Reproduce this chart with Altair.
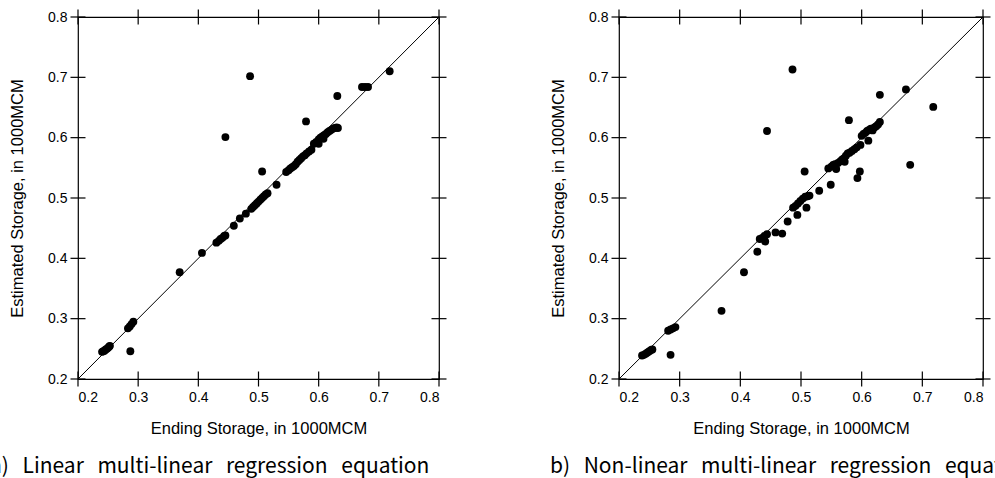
import altair as alt
import pandas as pd

tick_values = [0.2, 0.3, 0.4, 0.5, 0.6, 0.7, 0.8]
diag_values = [0.2, 0.8]

lin_obs = [0.486, 0.445, 0.718, 0.672, 0.677, 0.682, 0.631, 0.579, 0.506, 0.530, 0.369, 0.406, 0.287,
           0.283, 0.286, 0.289, 0.292,
           0.240, 0.242, 0.244, 0.246, 0.248, 0.250, 0.252, 0.253,
           0.430, 0.434, 0.437, 0.440, 0.443, 0.445,
           0.459, 0.469, 0.479,
           0.488, 0.491, 0.494, 0.497, 0.500, 0.503, 0.506, 0.509, 0.512, 0.515,
           0.546, 0.550, 0.553, 0.556, 0.559, 0.562, 0.565, 0.568, 0.571, 0.574,
           0.577, 0.580, 0.584, 0.588, 0.592, 0.596, 0.600, 0.603, 0.606, 0.609,
           0.612, 0.615, 0.618, 0.621, 0.624, 0.627, 0.630, 0.632, 0.608, 0.600]
lin_est = [0.702, 0.601, 0.710, 0.684, 0.684, 0.684, 0.669, 0.627, 0.544, 0.522, 0.377, 0.409, 0.246,
           0.284, 0.287, 0.291, 0.295,
           0.245, 0.246, 0.247, 0.249, 0.250, 0.252, 0.254, 0.255,
           0.426, 0.429, 0.432, 0.434, 0.437, 0.438,
           0.454, 0.466, 0.474,
           0.482, 0.485, 0.488, 0.491, 0.494, 0.497, 0.500, 0.503, 0.506, 0.508,
           0.543, 0.546, 0.549, 0.551, 0.553, 0.556, 0.560, 0.563, 0.566, 0.569,
           0.571, 0.574, 0.577, 0.580, 0.590, 0.593, 0.597, 0.600, 0.602, 0.604,
           0.606, 0.609, 0.611, 0.613, 0.615, 0.616, 0.617, 0.616, 0.598, 0.590]

non_obs = [0.486, 0.444, 0.630, 0.673, 0.718, 0.680, 0.579, 0.506, 0.597, 0.593,
           0.549, 0.530, 0.514, 0.509, 0.494, 0.478, 0.458, 0.469, 0.428, 0.406,
           0.369, 0.285,
           0.281, 0.285, 0.289, 0.293,
           0.238, 0.241, 0.244, 0.247, 0.250, 0.253, 0.255,
           0.432, 0.436, 0.440, 0.444, 0.441,
           0.487, 0.491, 0.495, 0.499, 0.503, 0.507, 0.511,
           0.545, 0.550, 0.553, 0.556, 0.558, 0.561, 0.565, 0.568, 0.571, 0.574,
           0.577, 0.572, 0.580, 0.584, 0.588, 0.592, 0.598, 0.600, 0.603, 0.606,
           0.609, 0.612, 0.615, 0.618, 0.611, 0.621, 0.624, 0.627, 0.630]
non_est = [0.713, 0.611, 0.671, 0.680, 0.651, 0.555, 0.629, 0.544, 0.544, 0.533,
           0.522, 0.512, 0.504, 0.484, 0.472, 0.461, 0.443, 0.441, 0.411, 0.377,
           0.313, 0.240,
           0.280, 0.282, 0.284, 0.286,
           0.239, 0.240, 0.242, 0.244, 0.246, 0.248, 0.249,
           0.432, 0.434, 0.437, 0.440, 0.428,
           0.484, 0.487, 0.491, 0.495, 0.499, 0.502, 0.503,
           0.549, 0.552, 0.555, 0.556, 0.548, 0.558, 0.561, 0.564, 0.566, 0.570,
           0.574, 0.560, 0.575, 0.578, 0.581, 0.584, 0.588, 0.603, 0.606, 0.608,
           0.611, 0.613, 0.615, 0.612, 0.595, 0.617, 0.619, 0.622, 0.626]

x_title = "Ending Storage, in 1000MCM"
y_title = "Estimated Storage, in 1000MCM"
SP = "\u00a0\u2009\u00a0"
cap_a = SP.join(["a)", "Linear", "multi-linear", "regression", "equation"])
cap_b = SP.join(["b)", "Non-linear", "multi-linear", "regression", "equation"])


def sc():
    return alt.Scale(domain=[0.2, 0.8], nice=False, zero=False)


def ax_x():
    return alt.Axis(values=tick_values, format=".1f", title=x_title,
                    ticks=False, tickSize=0, domain=False, grid=False,
                    labelPadding=11, titlePadding=16)


def ax_y():
    return alt.Axis(values=tick_values, format=".1f", title=y_title,
                    ticks=False, tickSize=0, domain=False, grid=False,
                    labelPadding=11, titlePadding=22)


def panel(obs, est, width, caption, dx):
    df = pd.DataFrame({"obs": obs, "est": est})
    tdf = pd.DataFrame({"t": tick_values})
    ddf = pd.DataFrame({"d": diag_values})

    pts = alt.Chart(df).mark_circle(size=62, color="black", opacity=1).encode(
        x=alt.X("obs:Q", scale=sc(), axis=ax_x()),
        y=alt.Y("est:Q", scale=sc(), axis=ax_y()),
    )
    diag = alt.Chart(ddf).mark_line(color="black", strokeWidth=1).encode(
        x=alt.X("d:Q", scale=sc(), axis=ax_x()),
        y=alt.Y("d:Q", scale=sc(), axis=ax_y()),
    )
    tk = dict(color="black", size=15, thickness=1.2, opacity=1)
    bottom = alt.Chart(tdf).mark_tick(orient="vertical", **tk).encode(
        x=alt.X("t:Q", scale=sc(), axis=ax_x()),
        y=alt.YDatum(0.2, scale=sc(), axis=ax_y()),
    )
    top = alt.Chart(tdf).mark_tick(orient="vertical", **tk).encode(
        x=alt.X("t:Q", scale=sc(), axis=ax_x()),
        y=alt.YDatum(0.8, scale=sc(), axis=ax_y()),
    )
    left = alt.Chart(tdf).mark_tick(orient="horizontal", **tk).encode(
        y=alt.Y("t:Q", scale=sc(), axis=ax_y()),
        x=alt.XDatum(0.2, scale=sc(), axis=ax_x()),
    )
    right = alt.Chart(tdf).mark_tick(orient="horizontal", **tk).encode(
        y=alt.Y("t:Q", scale=sc(), axis=ax_y()),
        x=alt.XDatum(0.8, scale=sc(), axis=ax_x()),
    )
    return alt.layer(pts, diag, bottom, top, left, right).properties(
        width=width, height=362,
        title=alt.TitleParams(caption, orient="bottom", anchor="start", dx=dx,
                              offset=19, frame="group", font="Noto Sans CJK KR",
                              fontSize=21, fontWeight="normal", color="black"),
    )


chart = alt.hconcat(
    panel(lin_obs, lin_est, 361, cap_a, -88),
    panel(non_obs, non_est, 364, cap_b, -69),
    spacing=101,
).properties(
    padding={"left": -11, "top": 8, "right": -39, "bottom": 0},
    background="white",
).configure_view(
    stroke="black", strokeWidth=1.2
).configure_axis(
    labelFont="Liberation Sans", labelFontSize=14, labelColor="black",
    titleFont="Liberation Sans", titleFontSize=16.5, titleFontWeight="normal",
    titleColor="black",
)

chart.save("out.html", embed_options={"renderer": "svg", "actions": False})
